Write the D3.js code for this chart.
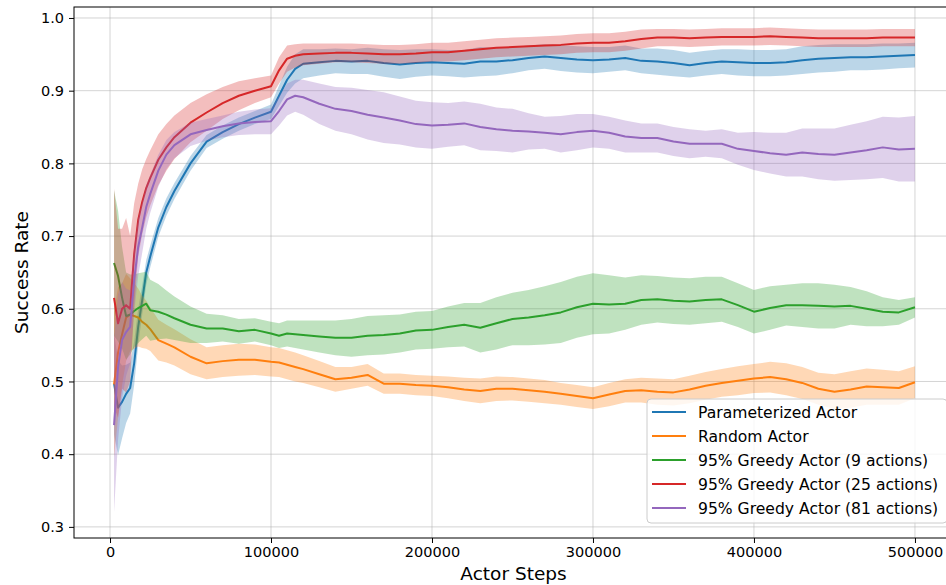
<!DOCTYPE html>
<html>
<head>
<meta charset="utf-8">
<script src="https://cdn.jsdelivr.net/npm/d3@7"></script>
<style>
  body { margin: 0; background: #fff; }
  svg { display: block; }
  text { font-family: "DejaVu Sans", sans-serif; fill: #000; }
</style>
</head>
<body>
<svg id="chart" width="946" height="585"></svg>
<script>
// Actor steps at which the running success rate was recorded
const steps = [
  2500, 5000, 7500, 10000, 12500, 15000, 17500, 20000, 22500, 25000,
  30000, 35000, 40000, 50000, 60000, 70000, 80000, 90000, 100000, 105000,
  110000, 115000, 120000, 130000, 140000, 150000, 160000, 170000, 180000, 190000,
  200000, 210000, 220000, 230000, 240000, 250000, 260000, 270000, 280000, 290000,
  300000, 310000, 320000, 330000, 340000, 350000, 360000, 370000, 380000, 390000,
  400000, 410000, 420000, 430000, 440000, 450000, 460000, 470000, 480000, 490000,
  500000
];

// Mean success rate per actor, with the half-width of its shaded band
const parameterizedMean = [
  0.497, 0.464, 0.472, 0.483, 0.491, 0.525, 0.575, 0.612, 0.650, 0.672,
  0.712, 0.740, 0.762, 0.800, 0.830, 0.843, 0.854, 0.863, 0.871, 0.893,
  0.915, 0.930, 0.937, 0.939, 0.941, 0.940, 0.941, 0.938, 0.936, 0.938,
  0.939, 0.938, 0.937, 0.940, 0.940, 0.942, 0.945, 0.947, 0.945, 0.943,
  0.942, 0.943, 0.945, 0.941, 0.940, 0.938, 0.935, 0.938, 0.940, 0.939,
  0.938, 0.938, 0.939, 0.942, 0.944, 0.945, 0.946, 0.946, 0.947, 0.948,
  0.949
];
const parameterizedSpread = [
  0.070, 0.065, 0.050, 0.040, 0.035, 0.030, 0.025, 0.020, 0.017, 0.015,
  0.013, 0.012, 0.011, 0.010, 0.009, 0.009, 0.009, 0.009, 0.010, 0.014,
  0.018, 0.020, 0.020, 0.018, 0.017, 0.017, 0.018, 0.019, 0.020, 0.019,
  0.018, 0.018, 0.019, 0.020, 0.019, 0.018, 0.017, 0.017, 0.018, 0.018,
  0.018, 0.017, 0.017, 0.017, 0.018, 0.018, 0.017, 0.017, 0.017, 0.018,
  0.018, 0.018, 0.018, 0.019, 0.019, 0.019, 0.018, 0.018, 0.018, 0.017,
  0.017
];

const randomMean = [
  0.496, 0.540, 0.565, 0.588, 0.592, 0.590, 0.588, 0.582, 0.578, 0.572,
  0.557, 0.552, 0.547, 0.534, 0.525, 0.528, 0.530, 0.530, 0.527, 0.526,
  0.523, 0.520, 0.517, 0.510, 0.503, 0.505, 0.509, 0.497, 0.497, 0.495,
  0.494, 0.492, 0.489, 0.487, 0.490, 0.490, 0.488, 0.486, 0.483, 0.480,
  0.477, 0.482, 0.487, 0.488, 0.486, 0.485, 0.489, 0.494, 0.498, 0.501,
  0.504, 0.506, 0.503, 0.498, 0.490, 0.486, 0.489, 0.493, 0.492, 0.491,
  0.499
];
const randomSpread = [
  0.100, 0.090, 0.070, 0.060, 0.050, 0.045, 0.040, 0.036, 0.033, 0.030,
  0.028, 0.026, 0.025, 0.024, 0.022, 0.022, 0.022, 0.021, 0.020, 0.020,
  0.020, 0.020, 0.019, 0.018, 0.017, 0.015, 0.015, 0.014, 0.014, 0.014,
  0.014, 0.015, 0.016, 0.017, 0.017, 0.016, 0.016, 0.016, 0.015, 0.015,
  0.015, 0.016, 0.016, 0.017, 0.018, 0.018, 0.019, 0.019, 0.019, 0.020,
  0.020, 0.021, 0.022, 0.022, 0.022, 0.024, 0.025, 0.025, 0.024, 0.023,
  0.022
];

const greedy9Mean = [
  0.663, 0.645, 0.615, 0.590, 0.592, 0.597, 0.601, 0.604, 0.607, 0.598,
  0.596, 0.592, 0.587, 0.578, 0.573, 0.573, 0.569, 0.571, 0.566, 0.563,
  0.566, 0.565, 0.564, 0.562, 0.560, 0.560, 0.563, 0.564, 0.566, 0.570,
  0.571, 0.575, 0.578, 0.574, 0.580, 0.586, 0.588, 0.591, 0.595, 0.602,
  0.607, 0.606, 0.607, 0.612, 0.613, 0.611, 0.610, 0.612, 0.613, 0.605,
  0.596, 0.601, 0.605, 0.605, 0.604, 0.603, 0.604, 0.600, 0.596, 0.595,
  0.602
];
const greedy9Spread = [
  0.100, 0.090, 0.070, 0.060, 0.055, 0.050, 0.048, 0.046, 0.044, 0.042,
  0.038, 0.033, 0.030, 0.025, 0.020, 0.018, 0.017, 0.016, 0.016, 0.017,
  0.018, 0.019, 0.020, 0.022, 0.024, 0.026, 0.027, 0.027, 0.026, 0.026,
  0.026, 0.028, 0.030, 0.034, 0.036, 0.036, 0.038, 0.040, 0.042, 0.042,
  0.042, 0.040, 0.036, 0.034, 0.032, 0.032, 0.032, 0.032, 0.031, 0.030,
  0.030, 0.030, 0.028, 0.030, 0.031, 0.030, 0.026, 0.024, 0.020, 0.017,
  0.014
];

const greedy25Mean = [
  0.615, 0.580, 0.600, 0.605, 0.600, 0.675, 0.722, 0.747, 0.766, 0.780,
  0.805, 0.822, 0.836, 0.856, 0.870, 0.883, 0.893, 0.900, 0.906, 0.928,
  0.944, 0.948, 0.950, 0.951, 0.952, 0.952, 0.951, 0.950, 0.950, 0.951,
  0.953, 0.953, 0.955, 0.957, 0.959, 0.960, 0.961, 0.962, 0.963, 0.965,
  0.966, 0.966, 0.968, 0.971, 0.973, 0.973, 0.972, 0.973, 0.974, 0.974,
  0.974, 0.975, 0.974, 0.973, 0.972, 0.972, 0.972, 0.972, 0.973, 0.973,
  0.973
];
const greedy25Spread = [
  0.150, 0.130, 0.110, 0.120, 0.100, 0.070, 0.050, 0.045, 0.040, 0.038,
  0.035, 0.032, 0.030, 0.027, 0.025, 0.022, 0.020, 0.017, 0.015, 0.018,
  0.018, 0.016, 0.015, 0.014, 0.013, 0.013, 0.013, 0.013, 0.013, 0.013,
  0.013, 0.013, 0.013, 0.013, 0.013, 0.013, 0.013, 0.013, 0.013, 0.013,
  0.013, 0.013, 0.013, 0.013, 0.012, 0.012, 0.012, 0.012, 0.012, 0.012,
  0.012, 0.012, 0.012, 0.012, 0.012, 0.012, 0.012, 0.012, 0.012, 0.012,
  0.012
];

const greedy81Mean = [
  0.440, 0.520, 0.557, 0.568, 0.575, 0.640, 0.685, 0.712, 0.740, 0.758,
  0.790, 0.812, 0.825, 0.840, 0.846, 0.851, 0.855, 0.857, 0.858, 0.872,
  0.888, 0.893, 0.891, 0.882, 0.875, 0.872, 0.867, 0.863, 0.859, 0.854,
  0.852, 0.853, 0.855, 0.850, 0.847, 0.845, 0.844, 0.842, 0.840, 0.843,
  0.845, 0.842, 0.837, 0.835, 0.835, 0.830, 0.827, 0.827, 0.827, 0.820,
  0.817, 0.814, 0.812, 0.815, 0.813, 0.812, 0.815, 0.818, 0.822, 0.819,
  0.820
];
const greedy81Spread = [
  0.120, 0.100, 0.080, 0.060, 0.050, 0.045, 0.040, 0.035, 0.030, 0.026,
  0.022, 0.020, 0.018, 0.016, 0.015, 0.015, 0.016, 0.017, 0.018, 0.020,
  0.022, 0.022, 0.024, 0.028, 0.030, 0.032, 0.034, 0.035, 0.033, 0.032,
  0.032, 0.030, 0.030, 0.032, 0.030, 0.030, 0.025, 0.022, 0.025, 0.025,
  0.023, 0.022, 0.022, 0.020, 0.020, 0.020, 0.020, 0.018, 0.020, 0.022,
  0.026, 0.028, 0.030, 0.033, 0.035, 0.036, 0.038, 0.040, 0.042, 0.044,
  0.045
];

const seriesNames = [
  "Parameterized Actor",
  "Random Actor",
  "95% Greedy Actor (9 actions)",
  "95% Greedy Actor (25 actions)",
  "95% Greedy Actor (81 actions)"
];
const seriesColors = ["#1f77b4", "#ff7f0e", "#2ca02c", "#d62728", "#9467bd"];
const seriesMeans = [parameterizedMean, randomMean, greedy9Mean, greedy25Mean, greedy81Mean];
const seriesSpreads = [parameterizedSpread, randomSpread, greedy9Spread, greedy25Spread, greedy81Spread];

const xTicks = [0, 100000, 200000, 300000, 400000, 500000];
const yTicks = [0.3, 0.4, 0.5, 0.6, 0.7, 0.8, 0.9, 1.0];

// ---- layout ----
const plot = { left: 74, right: 955, top: 7, bottom: 538 };

const svg = d3.select("#chart");

const x = d3.scaleLinear().domain([-22375, 524875]).range([plot.left, plot.right]);
const y = d3.scaleLinear().domain([0.2847, 1.0151]).range([plot.bottom, plot.top]);

svg.append("defs").append("clipPath").attr("id", "plot-clip")
  .append("rect")
  .attr("x", plot.left).attr("y", plot.top)
  .attr("width", plot.right - plot.left).attr("height", plot.bottom - plot.top);

// grid
const grid = svg.append("g").attr("class", "grid");
grid.selectAll("line.gx").data(xTicks).join("line")
  .attr("x1", d => x(d)).attr("x2", d => x(d))
  .attr("y1", plot.top).attr("y2", plot.bottom)
  .attr("stroke", "#b0b0b0").attr("stroke-opacity", 0.55).attr("stroke-width", 1);
grid.selectAll("line.gy").data(yTicks).join("line")
  .attr("y1", d => y(d)).attr("y2", d => y(d))
  .attr("x1", plot.left).attr("x2", plot.right)
  .attr("stroke", "#b0b0b0").attr("stroke-opacity", 0.55).attr("stroke-width", 1);

// series: shaded band, then mean line
const area = d3.area()
  .x(d => x(d.step))
  .y0(d => y(d.mean - d.spread))
  .y1(d => y(d.mean + d.spread));
const line = d3.line().x(d => x(d.step)).y(d => y(d.mean));

const marks = svg.append("g").attr("clip-path", "url(#plot-clip)");
seriesNames.forEach((name, i) => {
  const rows = steps.map((s, k) => ({ step: s, mean: seriesMeans[i][k], spread: seriesSpreads[i][k] }));
  marks.append("path").datum(rows)
    .attr("d", area)
    .attr("fill", seriesColors[i]).attr("fill-opacity", 0.3);
  marks.append("path").datum(rows)
    .attr("d", line)
    .attr("fill", "none").attr("stroke", seriesColors[i])
    .attr("stroke-width", 2).attr("stroke-linejoin", "round");
});

// axes
const xAxis = svg.append("g")
  .attr("transform", `translate(0,${plot.bottom})`)
  .call(d3.axisBottom(x).tickValues(xTicks).tickFormat(d3.format("d")).tickSize(5).tickPadding(4));
const yAxis = svg.append("g")
  .attr("transform", `translate(${plot.left},0)`)
  .call(d3.axisLeft(y).tickValues(yTicks).tickFormat(d3.format(".1f")).tickSize(5).tickPadding(5));
[xAxis, yAxis].forEach(g => {
  g.select(".domain").remove();
  g.selectAll("line").attr("stroke", "#000");
  g.selectAll("text").attr("font-size", 14.5).attr("font-family", "DejaVu Sans, sans-serif").attr("fill", "#000");
});

// frame
svg.append("rect")
  .attr("x", plot.left).attr("y", plot.top)
  .attr("width", plot.right - plot.left).attr("height", plot.bottom - plot.top)
  .attr("fill", "none").attr("stroke", "#000").attr("stroke-width", 1);

// axis titles
svg.append("text")
  .attr("x", (plot.left + plot.right) / 2 - 1).attr("y", 580)
  .attr("text-anchor", "middle").attr("font-size", 18.5)
  .text("Actor Steps");
svg.append("text")
  .attr("transform", `translate(28,${(plot.top + plot.bottom) / 2}) rotate(-90)`)
  .attr("text-anchor", "middle").attr("font-size", 18.5)
  .text("Success Rate");

// legend
const legend = svg.append("g").attr("transform", "translate(647,399)");
legend.append("rect")
  .attr("width", 300).attr("height", 124).attr("rx", 4)
  .attr("fill", "#fff").attr("fill-opacity", 0.8)
  .attr("stroke", "#cccccc").attr("stroke-width", 1);
seriesNames.forEach((name, i) => {
  const row = legend.append("g").attr("transform", `translate(0,${13 + i * 24})`);
  row.append("line").attr("x1", 5).attr("x2", 39).attr("y1", 0).attr("y2", 0)
    .attr("stroke", seriesColors[i]).attr("stroke-width", 2);
  row.append("text").attr("x", 51).attr("y", 0).attr("dy", "0.36em")
    .attr("font-size", 15.6).text(name);
});
</script>
</body>
</html>
